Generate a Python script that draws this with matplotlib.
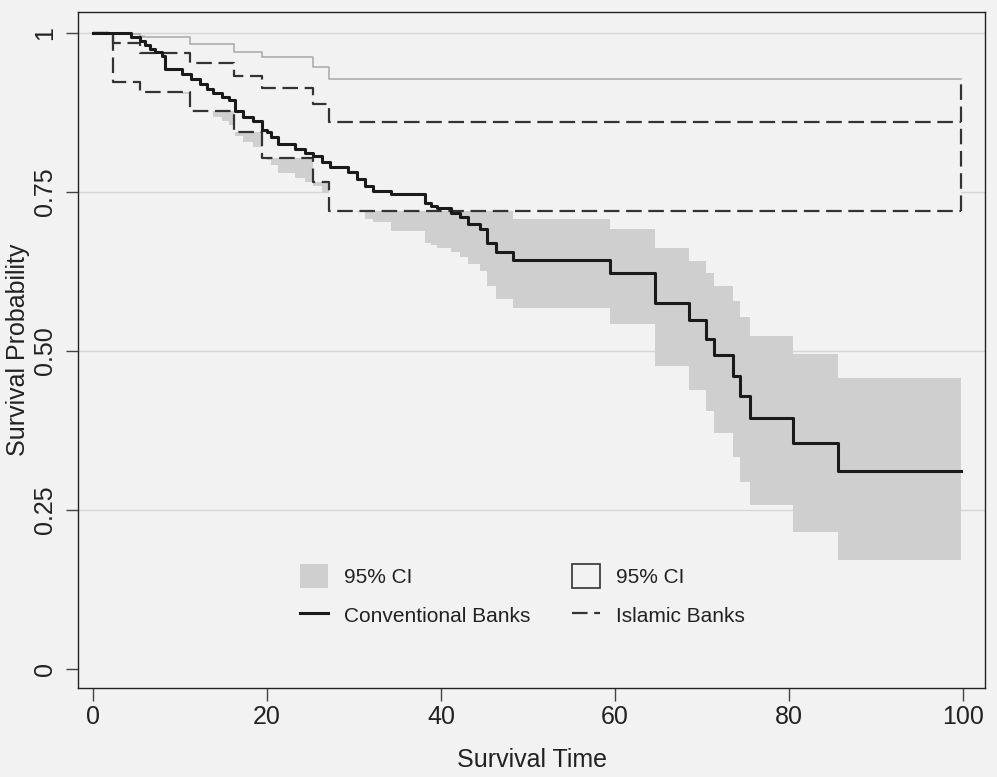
"""Kaplan-Meier survival: conventional vs Islamic banks."""

import numpy as np
import matplotlib as mpl
import matplotlib.pyplot as plt
from matplotlib.lines import Line2D
from matplotlib.patches import Patch

# Conventional banks: KM estimate and 95% CI (step values after each event time)
conv_time = [0, 4.4, 5.4, 6.0, 6.6, 7.2, 7.9, 8.3, 10.2, 11.3, 12.3, 13.1, 13.8,
             14.8, 15.6, 16.3, 17.3, 18.4, 19.4, 20.0, 20.5, 21.3, 23.2, 24.4,
             25.3, 26.3, 27.2, 29.3, 30.3, 31.3, 32.2, 34.3, 38.2, 38.9, 39.5,
             41.2, 42.2, 43.1, 44.5, 45.3, 46.3, 48.3, 59.4, 64.6, 68.5, 70.5,
             71.4, 73.5, 74.4, 75.5, 80.4, 85.6]
conv_surv = [1.0, 0.993, 0.987, 0.981, 0.975, 0.970, 0.964, 0.944, 0.936, 0.928,
             0.920, 0.912, 0.905, 0.900, 0.895, 0.878, 0.868, 0.861, 0.848, 0.844,
             0.836, 0.825, 0.818, 0.812, 0.807, 0.797, 0.789, 0.781, 0.770, 0.760,
             0.752, 0.747, 0.733, 0.728, 0.724, 0.717, 0.710, 0.699, 0.691, 0.670,
             0.655, 0.643, 0.623, 0.576, 0.548, 0.519, 0.494, 0.461, 0.429, 0.395,
             0.356, 0.311]
conv_lo = [1.0, 0.979, 0.970, 0.961, 0.953, 0.946, 0.938, 0.914, 0.904, 0.895,
           0.886, 0.877, 0.868, 0.862, 0.856, 0.838, 0.828, 0.820, 0.806, 0.801,
           0.792, 0.780, 0.772, 0.765, 0.760, 0.749, 0.740, 0.731, 0.719, 0.708,
           0.702, 0.689, 0.670, 0.666, 0.662, 0.656, 0.647, 0.636, 0.626, 0.602,
           0.581, 0.568, 0.542, 0.477, 0.439, 0.405, 0.371, 0.334, 0.294, 0.258,
           0.216, 0.171]
conv_hi = [1.0, 0.999, 0.997, 0.994, 0.991, 0.988, 0.985, 0.972, 0.966, 0.960,
           0.954, 0.948, 0.942, 0.938, 0.934, 0.920, 0.912, 0.906, 0.895, 0.892,
           0.885, 0.876, 0.870, 0.864, 0.860, 0.851, 0.844, 0.837, 0.827, 0.818,
           0.811, 0.806, 0.794, 0.790, 0.786, 0.779, 0.773, 0.763, 0.756, 0.737,
           0.724, 0.707, 0.691, 0.662, 0.641, 0.623, 0.602, 0.579, 0.553, 0.524,
           0.495, 0.457]
conv_last_time = 99.7

# Islamic banks
isl_time = [0, 2.3, 5.4, 11.2, 16.2, 19.4, 25.3, 27.1]
isl_surv = [1.0, 0.984, 0.969, 0.952, 0.933, 0.913, 0.888, 0.860]
isl_lo = [1.0, 0.923, 0.907, 0.878, 0.844, 0.804, 0.765, 0.720]
isl_hi = [1.0, 0.998, 0.994, 0.982, 0.970, 0.962, 0.946, 0.928]
isl_last_time = 99.7

x_ticks = [0, 20, 40, 60, 80, 100]
y_ticks = [0, 0.25, 0.5, 0.75, 1]
y_ticklabels = ["0", "0.25", "0.50", "0.75", "1"]

BG = "#f2f2f2"
CI_FILL = "#cfcfcf"
INK = "#1a1a1a"


def extend(times, values, last):
    return np.append(times, last), np.append(values, values[-1])


mpl.rcParams.update({
    "font.family": ["Liberation Sans", "DejaVu Sans"],
    "font.size": 18,
})

fig = plt.figure(figsize=(9.97, 7.77), dpi=100)
fig.patch.set_facecolor(BG)
ax = fig.add_axes([0.0782, 0.1145, 0.9098, 0.8701])
ax.set_facecolor(BG)

# grid
for yv in y_ticks[1:]:
    ax.axhline(yv, color="#d6d6d6", lw=1.0, zorder=0)

# conventional CI (filled)
t, lo = extend(conv_time, conv_lo, conv_last_time)
_, hi = extend(conv_time, conv_hi, conv_last_time)
ax.fill_between(t, lo, hi, step="post", facecolor=CI_FILL, edgecolor="none", zorder=1)

# Islamic CI (hollow box, background fill)
ti, ilo = extend(isl_time, isl_lo, isl_last_time)
_, ihi = extend(isl_time, isl_hi, isl_last_time)
ax.fill_between(ti, ilo, ihi, step="post", facecolor=BG, edgecolor="none", zorder=2)
dash = (0, (7, 3))
ax.step(ti, ihi, where="post", color="#a8a8a8", lw=1.1, zorder=3)
ax.step(ti, ilo, where="post", color="#333333", lw=1.6, linestyle=dash, zorder=3)
ax.plot([isl_last_time, isl_last_time], [isl_lo[-1], isl_hi[-1]],
        color="#333333", lw=1.6, linestyle=dash, zorder=3)

# survivor functions
ts, s = extend(isl_time, isl_surv, isl_last_time)
ax.step(ts, s, where="post", color="#333333", lw=1.6, linestyle=dash, zorder=4)
tc, c = extend(conv_time, conv_surv, conv_last_time)
ax.step(tc, c, where="post", color=INK, lw=2.2, zorder=5)

ax.set_xlim(-1.7, 102.5)
ax.set_ylim(-0.030, 1.033)
ax.set_xticks(x_ticks)
ax.set_yticks(y_ticks)
ax.set_yticklabels(y_ticklabels, rotation=90, va="center")
ax.tick_params(axis="both", direction="out", length=9, width=1.0,
               color="#444444", labelcolor="#222222")
ax.tick_params(axis="y", pad=6)
ax.tick_params(axis="x", pad=3)
for sp in ax.spines.values():
    sp.set_color("#222222")
    sp.set_linewidth(1.0)

ax.set_xlabel("Survival Time", color="#222222", labelpad=14)
ax.set_ylabel("Survival Probability", color="#222222", labelpad=2)

handles = [
    Patch(facecolor=CI_FILL, edgecolor="none"),
    Line2D([], [], color=INK, lw=2.2),
    Patch(facecolor=BG, edgecolor="#333333", lw=1.2),
    Line2D([], [], color="#333333", lw=1.6, linestyle=dash),
]
labels = ["95% CI", "Conventional Banks", "95% CI", "Islamic Banks"]
ax.legend(handles, labels, ncol=2, loc="upper left", bbox_to_anchor=(0.245, 0.183),
          frameon=False, fontsize=15, handlelength=1.35, handleheight=1.35,
          handletextpad=0.75, columnspacing=2.0, labelspacing=0.75,
          borderpad=0, borderaxespad=0, labelcolor="#222222")

fig.savefig("out.png", dpi=100, facecolor=BG)
